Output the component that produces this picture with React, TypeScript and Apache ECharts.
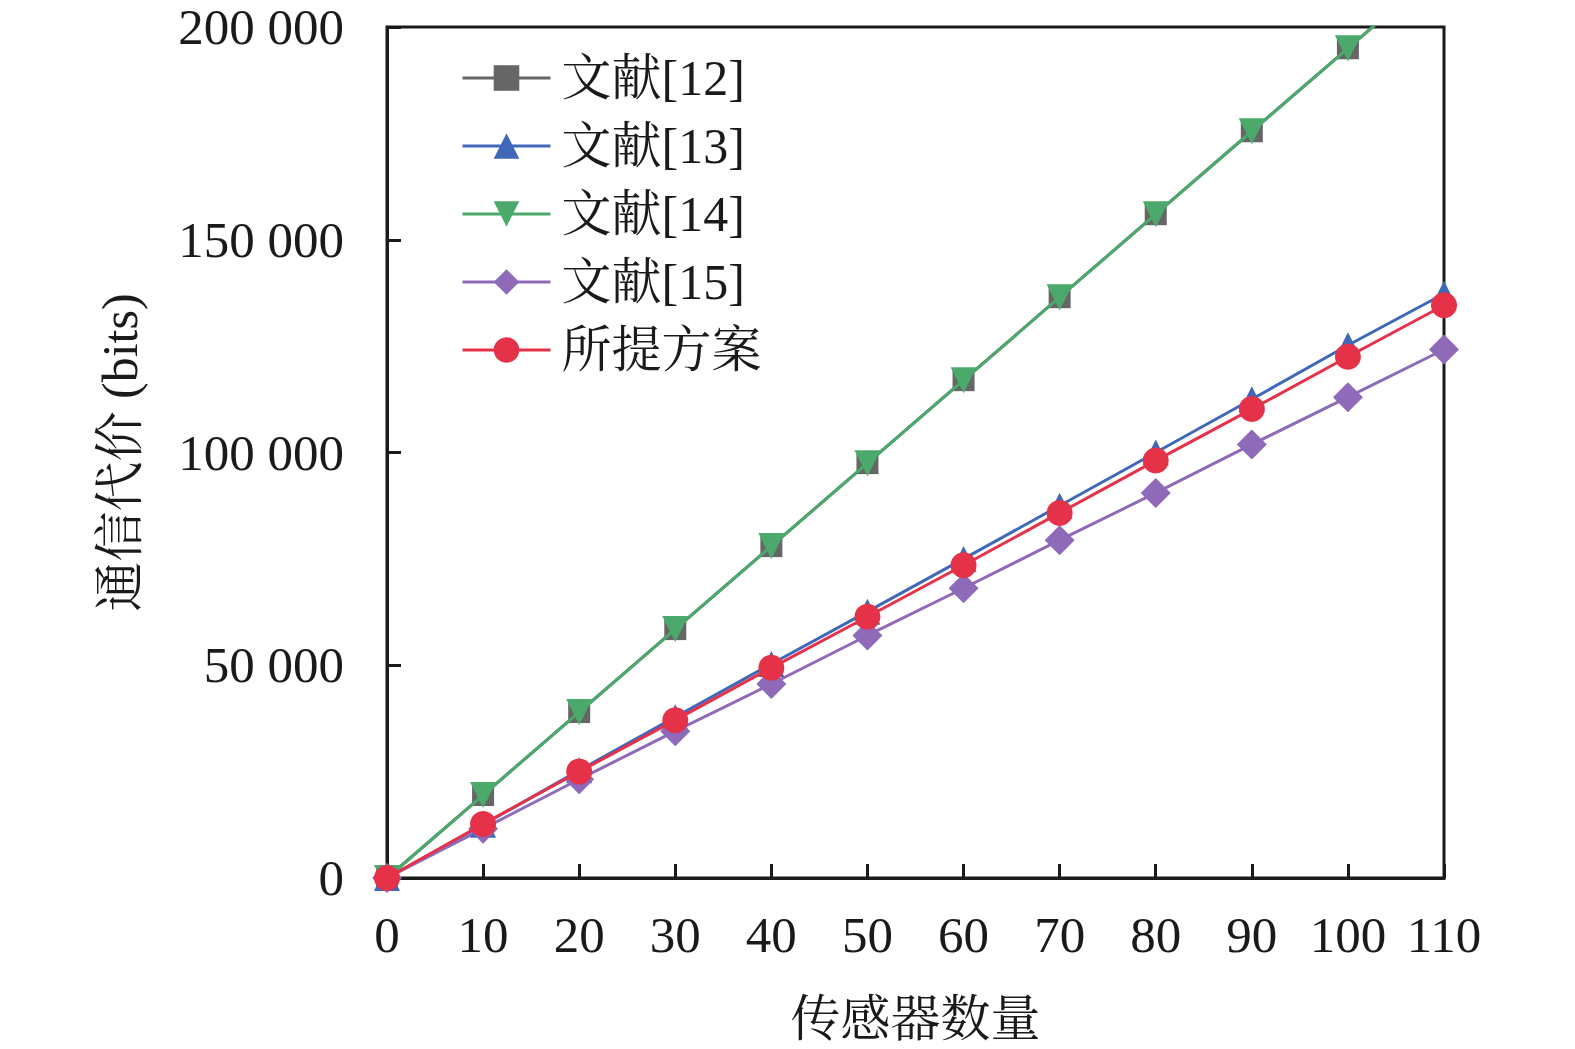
import React, { useEffect, useRef } from "react";
import * as echarts from "echarts";

const sensorCounts = [0, 10, 20, 30, 40, 50, 60, 70, 80, 90, 100, 110];
const ref12 = [0, 19500, 39000, 58500, 78000, 97500, 117000, 136500, 156000, 175500, 195000, 214500];
const ref13 = [0, 12500, 25300, 37800, 50300, 62600, 75000, 87500, 100000, 112500, 125200, 137300];
const ref14 = [0, 19500, 39000, 58500, 78000, 97500, 117000, 136500, 156000, 175500, 195000, 214500];
const ref15 = [0, 11600, 23200, 34500, 45600, 57000, 68100, 79400, 90500, 101900, 113000, 124200];
const proposed = [0, 12700, 25000, 37100, 49400, 61400, 73500, 85800, 98100, 110200, 122500, 134600];

const seriesNames = ["文献[12]", "文献[13]", "文献[14]", "文献[15]", "所提方案"];
const yTicks = [0, 50000, 100000, 150000, 200000];

const serif = "'Liberation Serif', 'Times New Roman', 'Noto Serif CJK SC', 'Noto Sans CJK SC', serif";

function fmt(v: number): string {
  const s = String(v);
  return s.replace(/\B(?=(\d{3})+(?!\d))/g, " ");
}

export default function App() {
  const ref = useRef<HTMLDivElement>(null);
  useEffect(() => {
    if (!ref.current) return;
    const chart = echarts.init(ref.current, null, { renderer: "svg" });
    const mk = (name: string, data: number[], color: string, symbol: string, size: number, rotate = 0, z = 2) => ({
      name,
      type: "line",
      data: sensorCounts.map((x, i) => [x, data[i]]),
      symbol,
      symbolSize: size,
      symbolRotate: rotate,
      showAllSymbol: true,
      z,
      lineStyle: { color, width: 3 },
      itemStyle: { color, opacity: 1 },
      clip: true,
    });
    chart.setOption({
      animation: false,
      backgroundColor: "#ffffff",
      grid: {
        left: 387,
        right: 131,
        top: 27,
        bottom: 171,
        show: true,
        borderColor: "#1a1a1a",
        borderWidth: 3,
        backgroundColor: "transparent",
      },
      legend: {
        orient: "vertical",
        left: 456,
        top: 48,
        itemWidth: 88,
        itemHeight: 32,
        itemGap: 18,
        lineStyle: { width: 3 },
        textStyle: { fontFamily: serif, fontSize: 50, color: "#1a1a1a", padding: [0, 0, 0, 6], lineHeight: 50 },
        data: seriesNames,
      },
      xAxis: {
        type: "value",
        min: 0,
        max: 110,
        interval: 10,
        name: "传感器数量",
        nameLocation: "middle",
        nameGap: 116,
        nameTextStyle: { fontFamily: serif, fontSize: 50, color: "#1a1a1a" },
        axisLine: { show: true, lineStyle: { color: "#1a1a1a", width: 3 } },
        axisTick: { show: true, inside: true, length: 14, lineStyle: { color: "#1a1a1a", width: 3 } },
        axisLabel: { fontFamily: serif, fontSize: 51, color: "#1a1a1a", margin: 31 },
        splitLine: { show: false },
      },
      yAxis: {
        type: "value",
        min: 0,
        max: 200000,
        interval: 50000,
        name: "通信代价 (bits)",
        nameLocation: "middle",
        nameGap: 242,
        nameTextStyle: { fontFamily: serif, fontSize: 50, color: "#1a1a1a" },
        axisLine: { show: true, lineStyle: { color: "#1a1a1a", width: 3 } },
        axisTick: { show: true, inside: true, length: 14, lineStyle: { color: "#1a1a1a", width: 3 } },
        axisLabel: {
          fontFamily: serif,
          fontSize: 51,
          color: "#1a1a1a",
          margin: 43,
          formatter: (v: number) => (yTicks.includes(v) ? fmt(v) : ""),
        },
        splitLine: { show: false },
      },
      series: [
        mk(seriesNames[0], ref12, "#666666", "rect", 22, 0, 2),
        mk(seriesNames[1], ref13, "#3f68b9", "triangle", 26, 0, 3),
        mk(seriesNames[2], ref14, "#4aa96b", "triangle", 26, 180, 4),
        mk(seriesNames[3], ref15, "#8e6ab9", "diamond", 30, 0, 3),
        mk(seriesNames[4], proposed, "#e53249", "circle", 26, 0, 5),
      ],
    });
    return () => chart.dispose();
  }, []);
  return (
    <div
      ref={ref}
      style={{ position: "fixed", left: 0, top: 0, width: 1575, height: 1049, background: "#fff" }}
    />
  );
}
